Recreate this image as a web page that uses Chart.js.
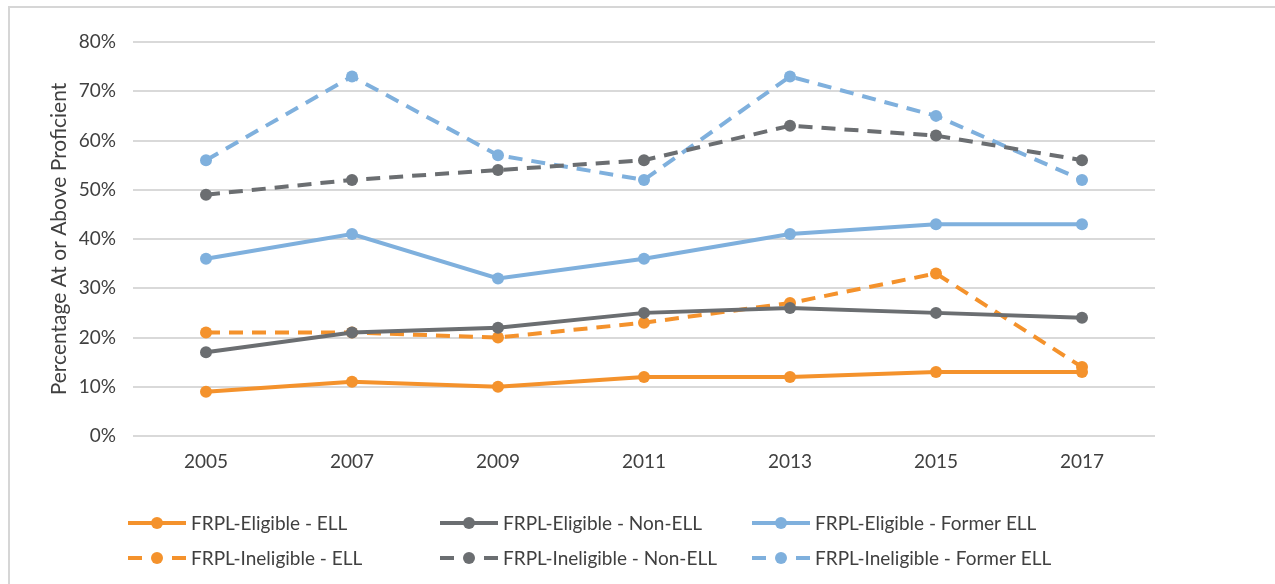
<!DOCTYPE html>
<html lang="en">
  <head>
    <meta charset="UTF-8" />
    <title>Percentage At or Above Proficient</title>
    <script src="https://cdn.jsdelivr.net/npm/chart.js@4"></script>
    <style>
      html, body { margin: 0; padding: 0; background: #fff; overflow: hidden; }
      #frame {
        position: absolute; left: 8px; top: 6px; width: 1300px; height: 620px;
        border: 2px solid #d6d6d6;
      }
      #wrap { position: absolute; left: 0; top: 0; width: 1275px; height: 584px; }
    </style>
  </head>
  <body>
    <div id="frame"></div>
    <div id="wrap"><canvas id="myChart"></canvas></div>
    <script>
      const years = ["2005", "2007", "2009", "2011", "2013", "2015", "2017"];
      const yTicks = [0, 10, 20, 30, 40, 50, 60, 70, 80];

      const eligibleEll = [9, 11, 10, 12, 12, 13, 13];
      const eligibleNonEll = [17, 21, 22, 25, 26, 25, 24];
      const eligibleFormerEll = [36, 41, 32, 36, 41, 43, 43];
      const ineligibleEll = [21, 21, 20, 23, 27, 33, 14];
      const ineligibleNonEll = [49, 52, 54, 56, 63, 61, 56];
      const ineligibleFormerEll = [56, 73, 57, 52, 73, 65, 52];

      const orange = "#f4922c";
      const gray = "#6b6e71";
      const blue = "#7fb0dd";
      const dash = [14, 9];

      function series(label, data, color, dashed) {
        return {
          label: label,
          data: data,
          borderColor: color,
          backgroundColor: color,
          borderWidth: 4,
          borderDash: dashed ? dash : [],
          pointRadius: 6,
          pointHoverRadius: 6,
          pointBorderWidth: 0,
          tension: 0,
          fill: false,
        };
      }

      // order: column by column as in the legend
      const datasets = [
        series("FRPL-Eligible - ELL", eligibleEll, orange, false),
        series("FRPL-Eligible - Non-ELL", eligibleNonEll, gray, false),
        series("FRPL-Eligible - Former ELL", eligibleFormerEll, blue, false),
        series("FRPL-Ineligible - ELL", ineligibleEll, orange, true),
        series("FRPL-Ineligible - Non-ELL", ineligibleNonEll, gray, true),
        series("FRPL-Ineligible - Former ELL", ineligibleFormerEll, blue, true),
      ];

      // draw legend as line + dot samples in a 3x2 grid under the plot
      const gridLegend = {
        id: "gridLegend",
        afterDraw(chart) {
          const ctx = chart.ctx;
          const area = chart.chartArea;
          ctx.save();
          ctx.font = "19px Lato";
          ctx.textBaseline = "middle";
          chart.data.datasets.forEach((ds, i) => {
            const col = i % 3;
            const row = Math.floor(i / 3);
            const x = area.left - 5 + col * 312;
            const y = area.bottom + 87 + row * 35;
            ctx.strokeStyle = ds.borderColor;
            ctx.lineWidth = 4;
            ctx.beginPath();
            if (ds.borderDash.length) {
              ctx.moveTo(x, y); ctx.lineTo(x + 14, y);
              ctx.moveTo(x + 44, y); ctx.lineTo(x + 58, y);
            } else {
              ctx.moveTo(x, y); ctx.lineTo(x + 58, y);
            }
            ctx.stroke();
            ctx.fillStyle = ds.borderColor;
            ctx.beginPath();
            ctx.arc(x + 29, y, 6, 0, Math.PI * 2);
            ctx.fill();
            ctx.fillStyle = "#404040";
            ctx.fillText(ds.label, x + 63, y + 1);
          });
          ctx.restore();
        },
      };

      new Chart(document.getElementById("myChart"), {
        type: "line",
        data: { labels: years, datasets: datasets },
        plugins: [gridLegend],
        options: {
          responsive: true,
          maintainAspectRatio: false,
          animation: false,
          layout: { padding: { top: 42, right: 120, bottom: 100, left: 0 } },
          plugins: {
            legend: { display: false },
            tooltip: { enabled: false },
          },
          scales: {
            x: {
              offset: true,
              grid: { display: false, drawTicks: false },
              border: { display: false },
              ticks: { color: "#404040", font: { family: "Lato", size: 19 }, padding: 14 },
              afterFit(scale) { scale.height = 48; },
            },
            y: {
              min: 0,
              max: 80,
              afterBuildTicks(scale) { scale.ticks = yTicks.map((v) => ({ value: v })); },
              grid: { color: "#d9d9d9", lineWidth: 2, drawTicks: false },
              border: { display: false },
              ticks: {
                color: "#404040",
                font: { family: "Lato", size: 19 },
                padding: 17,
                callback: (v) => v + "%",
              },
              title: {
                display: true,
                text: "Percentage At or Above Proficient",
                color: "#404040",
                font: { family: "Lato", size: 21 },
                padding: { top: 47, bottom: 0 },
              },
              afterFit(scale) { scale.width = 133; },
            },
          },
        },
      });
    </script>
  </body>
</html>
